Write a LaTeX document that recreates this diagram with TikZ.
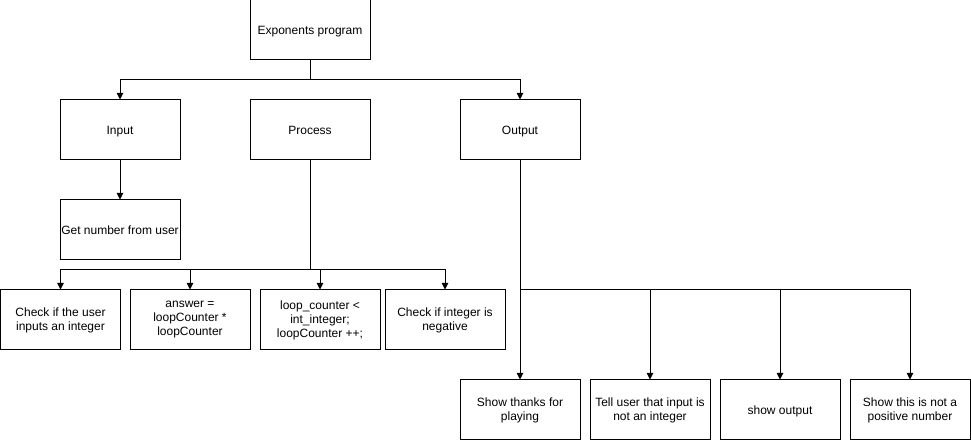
\documentclass[tikz,border=0pt]{standalone}
\usepackage{fontspec}
\setmainfont{Liberation Sans}
\usetikzlibrary{arrows.meta}
\newcommand{\mystrut}{\rule[-2pt]{0pt}{10.4pt}}
\begin{document}
\begin{tikzpicture}[x=0.75pt,y=-0.75pt,
  box/.style={draw=black,line width=0.75pt,minimum width=90pt,minimum height=45pt,
    inner sep=0pt,align=center,font=\fontsize{9}{10.5}\selectfont,
    execute at begin node={\mystrut},execute at end node={\mystrut}},
  conn/.style={draw=black,line width=0.75pt},
  arr/.style={conn,-{Triangle[length=5pt,width=5pt]}}]
\useasboundingbox (0,0) rectangle (971,441);
\node[box] (top) at (310,30) {Exponents program};
\node[box] (input) at (120,130) {Input};
\node[box] (process) at (310,130) {Process};
\node[box] (output) at (520,130) {Output};
\node[box] (getnum) at (120,230) {Get number from user};
\node[box] (check) at (60.5,320) {Check if the user\\inputs an integer};
\node[box] (answer) at (190,320) {answer =\\loopCounter *\\loopCounter};
\node[box] (loop) at (320,320) {loop\_counter <\\int\_integer;\\loopCounter ++;};
\node[box] (neg) at (445,320) {Check if integer is\\negative};
\node[box] (thanks) at (520,410) {Show thanks for\\playing};
\node[box] (tell) at (650,410) {Tell user that input is\\not an integer};
\node[box] (show) at (780,410) {show output};
\node[box] (notpos) at (910,410) {Show this is not a\\positive number};
\coordinate (j1) at (310,80);
\coordinate (j2) at (310,270);
\coordinate (j3) at (520,290);
\draw[conn] (top.south) -- (j1);
\draw[arr] (j1) -| (input.north);
\draw[arr] (j1) -| (output.north);
\draw[arr] (input.south) -- (getnum.north);
\draw[conn] (process.south) -- (j2);
\draw[arr] (j2) -| (check.north);
\draw[arr] (j2) -| (answer.north);
\draw[arr] (j2) -| (loop.north);
\draw[arr] (j2) -| (neg.north);
\draw[arr] (output.south) -- (thanks.north);
\draw[arr] (j3) -| (tell.north);
\draw[arr] (j3) -| (show.north);
\draw[arr] (j3) -| (notpos.north);
\end{tikzpicture}
\end{document}
